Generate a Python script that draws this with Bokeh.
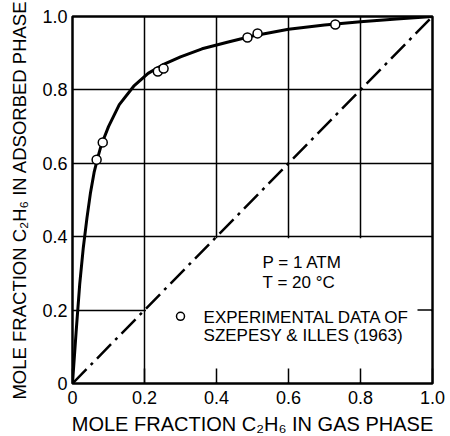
from bokeh.plotting import figure
from bokeh.models import FixedTicker, Label, Range1d
from bokeh.embed import file_html
from bokeh.resources import INLINE

# Fitted curve
curve_x = [0.0, 0.01, 0.02, 0.03, 0.04, 0.05, 0.06, 0.07, 0.08, 0.10, 0.13, 0.17,
           0.21, 0.25, 0.30, 0.36, 0.43, 0.50, 0.60, 0.70, 0.80, 0.90, 1.0]
curve_y = [0.0, 0.14, 0.27, 0.37, 0.45, 0.52, 0.575, 0.615, 0.65, 0.70, 0.76, 0.81,
           0.845, 0.868, 0.89, 0.912, 0.93, 0.947, 0.965, 0.977, 0.986, 0.993, 1.0]

# Experimental data (Szepesy & Illes, 1963)
exp_x = [0.067, 0.084, 0.237, 0.253, 0.486, 0.514, 0.73]
exp_y = [0.61, 0.657, 0.85, 0.858, 0.943, 0.954, 0.978]

# 45-degree reference line
diag_x = [0.0, 1.0]
diag_y = [0.0, 1.0]

tick_values = [0, 0.2, 0.4, 0.6, 0.8, 1.0]
tick_labels = ["0", "0.2", "0.4", "0.6", "0.8", "1.0"]

FONT = "Liberation Sans"
FRAME_W, FRAME_H = 360, 367
TICK_IN = 15

p = figure(frame_width=FRAME_W, frame_height=FRAME_H,
           x_range=Range1d(0, 1), y_range=Range1d(0, 1),
           output_backend="svg", toolbar_location=None,
           min_border_left=72, min_border_right=18,
           min_border_top=16, min_border_bottom=53)

p.background_fill_color = "white"
p.border_fill_color = "white"
p.outline_line_color = "black"
p.outline_line_width = 2.5
p.outline_line_alpha = 1.0

for g in (p.xgrid, p.ygrid):
    g.ticker = FixedTicker(ticks=tick_values)
    g.grid_line_color = "black"
    g.grid_line_width = 1.5

overrides = dict(zip(tick_values, tick_labels))

xa = p.xaxis[0]
xa.ticker = FixedTicker(ticks=tick_values)
xa.major_label_overrides = overrides
xa.axis_line_color = None
xa.major_tick_in = TICK_IN
xa.major_tick_out = 0
xa.major_tick_line_width = 1.5
xa.minor_tick_line_color = None
xa.major_label_text_font = FONT
xa.major_label_text_font_size = "18px"
xa.major_label_text_color = "black"
xa.major_label_standoff = 7
xa.axis_label = "MOLE FRACTION C\u2082H\u2086 IN GAS PHASE"
xa.axis_label_text_font = FONT
xa.axis_label_text_font_size = "20px"
xa.axis_label_text_font_style = "normal"
xa.axis_label_text_color = "black"
xa.axis_label_standoff = 6

ya = p.yaxis[0]
ya.ticker = FixedTicker(ticks=tick_values)
ya.major_label_overrides = overrides
ya.axis_line_color = None
ya.major_tick_in = 0
ya.major_tick_out = 0
ya.minor_tick_line_color = None
ya.major_label_text_font = FONT
ya.major_label_text_font_size = "18px"
ya.major_label_text_color = "black"
ya.major_label_standoff = 5
ya.axis_label = "MOLE FRACTION C\u2082H\u2086 IN ADSORBED PHASE"
ya.axis_label_text_font = FONT
ya.axis_label_text_font_size = "18.5px"
ya.axis_label_text_font_style = "normal"
ya.axis_label_text_color = "black"
ya.axis_label_standoff = 9

# blank panel holding the annotation text (lower right, below y=0.4, right of x=0.2)
eps = 0.004
p.quad(left=[tick_values[1] + eps], right=[tick_values[-1] - eps],
       bottom=[tick_values[0] + eps], top=[tick_values[2] - eps],
       fill_color="white", line_color=None)

# inward tick stub on the right frame edge at y = 0.2
p.segment(x0=[tick_values[-1]], y0=[tick_values[1]],
          x1=[tick_values[-1] - TICK_IN / FRAME_W], y1=[tick_values[1]],
          line_color="black", line_width=1.5)

p.line(diag_x, diag_y, line_color="black", line_width=2.5, line_dash="20 6 3 6")
p.line(curve_x, curve_y, line_color="black", line_width=3)
p.scatter(exp_x, exp_y, marker="circle", size=9, fill_color="white",
          line_color="black", line_width=1.5)

# legend key marker
p.scatter([0.30], [0.183], marker="circle", size=8, fill_color="white",
          line_color="black", line_width=1.5)

def add_label(x, y, text, size="17px"):
    p.add_layout(Label(x=x, y=y, text=text, text_font=FONT, text_font_size=size,
                       text_color="black", text_align="left", text_baseline="middle"))

add_label(0.528, 0.33, "P = 1 ATM")
add_label(0.528, 0.275, "T = 20 \u00b0C")
add_label(0.364, 0.18, "EXPERIMENTAL DATA OF")
add_label(0.364, 0.131, "SZEPESY & ILLES (1963)")

open("out.html", "w").write(file_html(p, INLINE))
